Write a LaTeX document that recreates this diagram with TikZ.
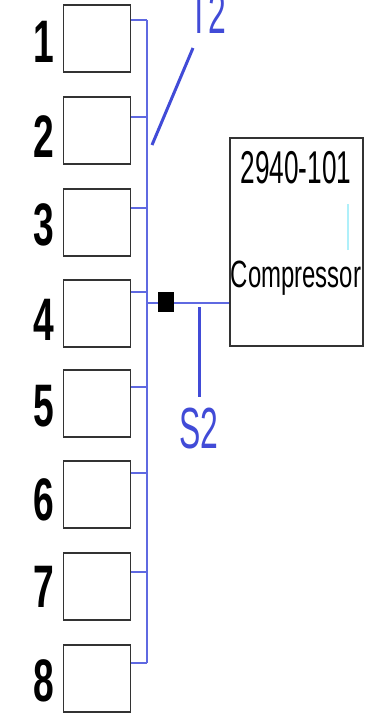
\documentclass[tikz,border=0pt]{standalone}
\usepackage{fontspec}
\setmainfont{Liberation Sans}
\newcommand\narrowtxt[2]{\scalebox{#1}[1]{#2}}
\definecolor{busblue}{RGB}{95,105,225}
\definecolor{labblue}{RGB}{65,75,215}
\definecolor{faintcyan}{RGB}{175,240,250}
\begin{document}
\begin{tikzpicture}[x=1pt,y=-1pt,
  unit/.style={draw=black!80,line width=1.8pt,minimum width=67pt,minimum height=67pt,inner sep=0pt,anchor=north west},
  digit/.style={font=\fontsize{60}{60}\selectfont\bfseries,inner sep=0pt,anchor=center},
  bus/.style={draw=busblue,line width=1.4pt},
  tag/.style={draw=labblue,line width=3pt},
  tagtext/.style={text=labblue,font=\fontsize{58}{58}\selectfont,inner sep=0pt,anchor=base}]
\useasboundingbox (0,0) rectangle (373,713);
% units
\foreach \i/\t/\dy in {1/4/42,2/96/137,3/188/225,4/279/320,5/369/406,6/460/500,7/552/587,8/644/681}{
  \node[unit] (b\i) at (62.5,\t) {};
  \node[digit] (d\i) at (44,\dy) {\narrowtxt{0.62}{\i}};
}
% bus taps
\foreach \i/\y in {1/20,2/117,3/208,4/292,5/387,6/473,7/572,8/663}{
  \coordinate (t\i) at (147,\y);
  \draw[bus] (t\i -| b\i.east) -- (t\i);
}
\draw[bus] (t1) -- (t8);
% compressor
\node[draw=black!80,line width=1.6pt,minimum width=133pt,minimum height=208pt,inner sep=0pt,anchor=north west] (comp) at (229,137) {};
\node[inner sep=0pt,anchor=base,font=\fontsize{46}{46}\selectfont] (cid) at (296,183) {\narrowtxt{0.57}{2940-101}};
\node[inner sep=0pt,anchor=base,font=\fontsize{38}{38}\selectfont] (cname) at (296,287) {\narrowtxt{0.63}{Compressor}};
\draw[faintcyan,line width=1.5pt] (348,204) -- (348,250);
% link to compressor
\coordinate (j) at (147,303);
\draw[bus] (j) -- (comp.west |- j);
\node[fill=black,minimum width=16pt,minimum height=20pt,inner sep=0pt] (sq) at (166,302) {};
% S2 tag
\coordinate (s2a) at (199,307);
\node[tagtext] (s2) at (199,448) {\narrowtxt{0.55}{S2}};
\draw[tag] (s2a) -- (199,397);
% T2 tag
\node[tagtext] (t2) at (208,33) {\narrowtxt{0.55}{T2}};
\coordinate (t2a) at (193,48);
\coordinate (t2b) at (152,145);
\draw[tag] (t2a) -- (t2b);
\end{tikzpicture}
\end{document}
